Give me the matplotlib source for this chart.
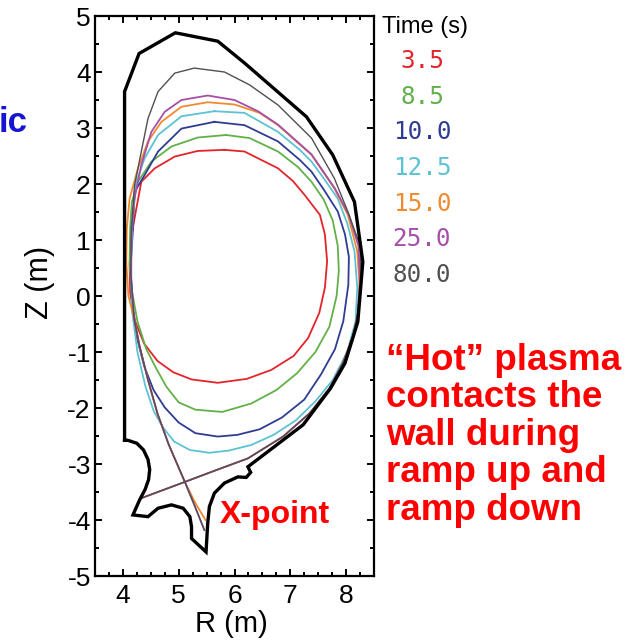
import matplotlib
matplotlib.use("Agg")
import matplotlib.pyplot as plt
from matplotlib.ticker import MultipleLocator

plt.rcParams["font.family"] = ["Liberation Sans", "DejaVu Sans"]
plt.rcParams["axes.unicode_minus"] = False

# =========================
# Data
# =========================
times = ["3.5", "8.5", "10.0", "12.5", "15.0", "25.0", "80.0"]
colors = ["#e3242b", "#62b04a", "#2e3d92", "#5cc2d4", "#f08a2e", "#a64fa8", "#505050"]

# first wall / limiter outline
wall_r = [4.03, 4.03, 4.29, 4.94, 5.70, 6.18, 7.29, 7.76, 8.15, 8.30, 8.21, 7.98, 7.72, 7.23,
          6.24, 6.29, 6.21, 6.06, 5.82, 5.64, 5.55, 5.52, 5.49, 5.23, 5.23, 5.20, 5.08, 4.87,
          4.63, 4.45, 4.18, 4.30, 4.40, 4.46, 4.48, 4.45, 4.37, 4.25, 4.10, 4.03]
wall_z = [-2.57, 3.65, 4.33, 4.70, 4.55, 4.16, 3.20, 2.52, 1.68, 0.61, -0.46, -1.20, -1.65, -2.30,
          -3.05, -3.15, -3.24, -3.23, -3.34, -3.52, -3.76, -4.06, -4.57, -4.33, -4.12, -3.94, -3.79, -3.73,
          -3.79, -3.94, -3.91, -3.64, -3.45, -3.28, -3.10, -2.92, -2.75, -2.63, -2.58, -2.57]

# limited plasma boundaries
red_r = [5.82, 6.18, 6.78, 7.05, 7.26, 7.53, 7.62, 7.66, 7.62, 7.52, 7.32, 7.06, 6.66, 6.22, 5.70,
         5.23, 4.90, 4.62, 4.38, 4.22, 4.13, 4.12, 4.15, 4.22, 4.33, 4.57, 4.93, 5.34, 5.82]
red_z = [2.61, 2.58, 2.28, 2.05, 1.80, 1.45, 1.10, 0.62, 0.15, -0.30, -0.75, -1.07, -1.32, -1.48, -1.55,
         -1.49, -1.36, -1.16, -0.85, -0.45, 0.05, 0.55, 1.05, 1.45, 2.04, 2.28, 2.49, 2.59, 2.61]

green_r = [5.85, 6.27, 6.78, 7.14, 7.38, 7.60, 7.76, 7.85, 7.87, 7.83, 7.70, 7.45, 7.12, 6.75, 6.30,
           5.78, 5.30, 5.00, 4.78, 4.60, 4.42, 4.26, 4.16, 4.12, 4.13, 4.16, 4.27, 4.51, 4.87, 5.34, 5.85]
green_z = [2.875, 2.82, 2.58, 2.30, 2.04, 1.72, 1.35, 0.90, 0.45, 0.0, -0.55, -1.00, -1.38, -1.68, -1.92,
           -2.07, -2.03, -1.90, -1.62, -1.30, -0.95, -0.45, 0.10, 0.60, 1.20, 1.68, 2.04, 2.40, 2.67, 2.83, 2.875]

blue_r = [5.64, 6.18, 6.78, 7.17, 7.38, 7.60, 7.85, 7.98, 8.05, 8.04, 7.95, 7.80, 7.55, 7.25, 6.85,
          6.45, 6.05, 5.70, 5.30, 5.00, 4.75, 4.55, 4.38, 4.24, 4.16, 4.14, 4.18, 4.21, 4.39, 4.63, 5.05, 5.64]
blue_z = [3.11, 3.05, 2.76, 2.43, 2.22, 1.90, 1.51, 1.10, 0.70, 0.20, -0.45, -0.95, -1.40, -1.85, -2.17,
          -2.38, -2.48, -2.51, -2.45, -2.26, -1.99, -1.68, -1.25, -0.70, -0.10, 0.55, 1.20, 1.86, 2.16, 2.58, 2.99, 3.11]

cyan_r = [5.64, 6.18, 6.78, 7.17, 7.38, 7.60, 7.85, 8.02, 8.15, 8.20, 8.17, 8.02, 7.76, 7.45, 7.10, 6.70,
          6.30, 5.90, 5.55, 5.20, 4.92, 4.72, 4.55, 4.40, 4.26, 4.17, 4.14, 4.17, 4.24, 4.39, 4.63, 5.05, 5.64]
cyan_z = [3.30, 3.27, 2.93, 2.61, 2.40, 2.10, 1.74, 1.30, 0.80, 0.15, -0.45, -1.00, -1.50, -1.88, -2.22, -2.48,
          -2.66, -2.76, -2.80, -2.75, -2.60, -2.35, -2.05, -1.60, -1.00, -0.30, 0.50, 1.30, 2.04, 2.46, 2.875, 3.21, 3.30]

# diverted boundaries: inner leg -> X-point -> around plasma -> X-point -> outer leg
orange_r = [4.33, 5.11, 5.67, 6.24, 6.87, 7.35, 7.70, 7.94, 8.12, 8.21, 8.24, 8.20, 8.03, 7.79, 7.38, 6.78,
            6.45, 6.00, 5.52, 5.05, 4.69, 4.45, 4.27, 4.12, 4.07, 4.06, 4.10, 4.20, 4.30, 4.45, 4.62, 4.82,
            5.11, 5.30, 5.48]
orange_z = [-3.61, -3.32, -3.11, -2.90, -2.51, -2.09, -1.65, -1.20, -0.73, -0.31, 0.20, 0.80, 1.45, 1.92, 2.52, 3.05,
            3.27, 3.42, 3.46, 3.38, 3.11, 2.76, 2.28, 1.74, 1.20, 0.60, 0.0, -0.40, -0.90, -1.50, -2.10, -2.65,
            -3.32, -3.70, -4.00]

purple_r = [4.33, 5.11, 5.67, 6.24, 6.87, 7.35, 7.70, 7.94, 8.12, 8.21, 8.25, 8.22, 8.05, 7.80, 7.38, 6.78,
            6.42, 6.00, 5.52, 5.05, 4.75, 4.51, 4.33, 4.20, 4.15, 4.15, 4.20, 4.30, 4.45, 4.62, 4.82,
            5.11, 5.30, 5.46]
purple_z = [-3.61, -3.32, -3.11, -2.90, -2.51, -2.09, -1.65, -1.20, -0.73, -0.31, 0.30, 0.90, 1.45, 1.92, 2.53, 3.06,
            3.30, 3.50, 3.58, 3.50, 3.29, 2.93, 2.34, 1.70, 1.00, 0.30, -0.40, -0.90, -1.50, -2.10, -2.65,
            -3.32, -3.78, -4.18]

gray_r = [4.33, 5.11, 5.67, 6.24, 6.87, 7.35, 7.70, 7.94, 8.12, 8.21, 8.27, 8.25, 8.03, 7.79, 7.38, 6.78,
          6.27, 5.82, 5.28, 4.93, 4.63, 4.45, 4.33, 4.21, 4.15, 4.14, 4.20, 4.30, 4.45, 4.62, 4.82,
          5.11, 5.30, 5.46]
gray_z = [-3.61, -3.32, -3.11, -2.90, -2.51, -2.09, -1.65, -1.20, -0.73, -0.31, 0.30, 0.90, 1.51, 2.10, 2.82, 3.41,
          3.77, 4.00, 4.07, 3.98, 3.65, 3.17, 2.58, 1.98, 1.20, 0.40, -0.40, -0.90, -1.50, -2.10, -2.65,
          -3.32, -3.78, -4.18]

boundaries = [(red_r, red_z), (green_r, green_z), (blue_r, blue_z), (cyan_r, cyan_z),
              (orange_r, orange_z), (purple_r, purple_z), (gray_r, gray_z)]

# =========================
# Figure
# =========================
W = 641
fig = plt.figure(figsize=(6.41, 6.41), dpi=100)
ax = fig.add_axes([95 / W, 1 - 576 / W, 279 / W, 560 / W])

for (r, z), c in zip(boundaries, colors):
    lw = 1.0 if c == "#505050" else 1.3
    ax.plot(r, z, color=c, lw=lw, solid_joinstyle="round")

ax.plot(wall_r, wall_z, color="black", lw=2.4, solid_joinstyle="miter")

ax.set_xlim(3.5, 8.5)
ax.set_ylim(-5, 5)
ax.xaxis.set_major_locator(MultipleLocator(1))
ax.xaxis.set_minor_locator(MultipleLocator(0.25))
ax.yaxis.set_major_locator(MultipleLocator(1))
ax.yaxis.set_minor_locator(MultipleLocator(0.5))
ax.tick_params(which="both", direction="in", top=True, right=True, width=1.4, labelsize=19)
ax.tick_params(which="major", length=5)
ax.tick_params(which="minor", length=3)
ax.tick_params(axis="x", pad=6)
ax.tick_params(axis="y", pad=3)
for s in ax.spines.values():
    s.set_linewidth(1.6)

fig.text(40 / W, 1 - 282 / W, "Z (m)", rotation=90, ha="center", va="center", fontsize=22)
fig.text(231 / W, 1 - 624 / W, "R (m)", ha="center", va="center", fontsize=21)

# legend block
fig.text(382 / W, 1 - 27 / W, "Time (s)", ha="left", va="center", fontsize=17)
for i, (t, c) in enumerate(zip(times, colors)):
    fig.text(422 / W, 1 - (61 + 35.7 * i) / W, t, ha="center", va="center",
             color=c, fontsize=17.5, family="DejaVu Sans Mono")

# annotations
ax.text(5.73, -4.05, "X-point", color="#ff0000", fontsize=23, fontweight="bold",
        ha="left", va="baseline")
fig.text(386 / W, 1 - 343 / W, "\u201cHot\u201d plasma\ncontacts the\nwall during\nramp up and\nramp down",
         color="#ff0000", fontsize=26.5, fontweight="bold", ha="left", va="top",
         linespacing=1.09)
fig.text(28 / W, 1 - 132 / W, "ic", color="#1414d2", fontsize=25, fontweight="bold",
         ha="right", va="baseline")

fig.savefig("out.png", dpi=100)
